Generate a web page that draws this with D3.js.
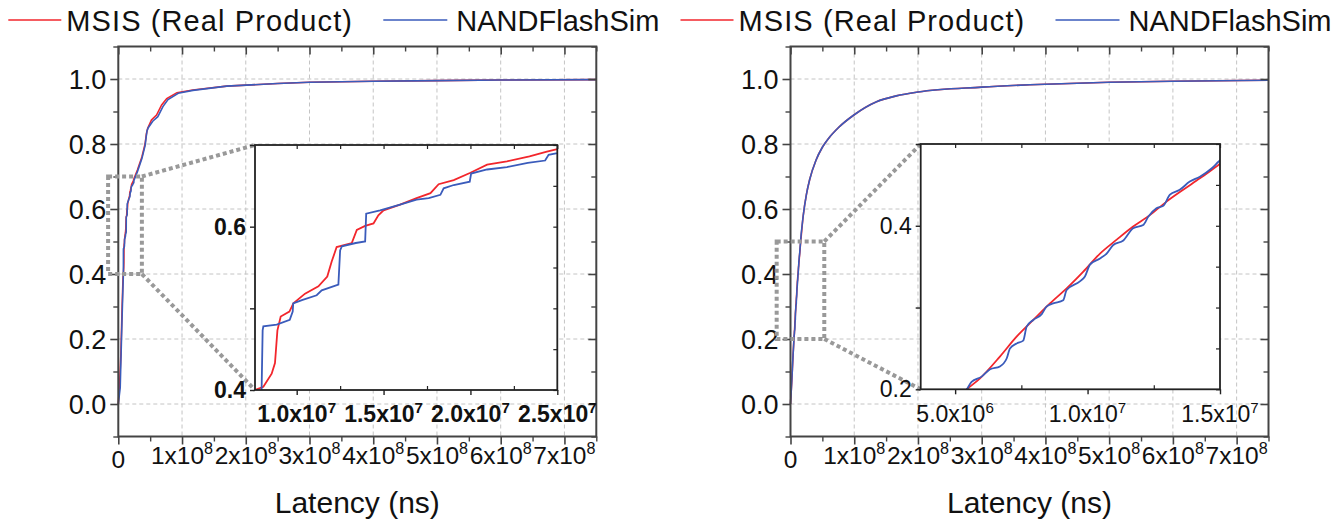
<!DOCTYPE html>
<html>
<head>
<meta charset="utf-8">
<script src="https://cdn.jsdelivr.net/npm/d3@7"></script>
<style>
body { margin: 0; background: #fff; }
text { font-family: "Liberation Sans", Arial, sans-serif; fill: #111; }
</style>
</head>
<body>
<div id="chart"></div>
<script>
var width = 1333,
    height = 525;

var seriesNames = ["MSIS (Real Product)", "NANDFlashSim"];
var seriesColors = ["#f2262c", "#3a5bbb"];

// latency (ns), cumulative fraction -- left workload
var leftMsis = [[0,0],[2e6,0.06],[4e6,0.15],[6e6,0.3],[7.6e6,0.4],[8.08e6,0.404],[8.56e6,0.42],[8.75e6,0.433],
  [8.89e6,0.473],[9.08e6,0.49],[9.58e6,0.496],[9.81e6,0.506],[10.48e6,0.518],[11.25e6,0.527],[11.76e6,0.539],
  [12.01e6,0.557],[12.3e6,0.575],[13.17e6,0.58],[13.46e6,0.596],[13.94e6,0.601],[14.42e6,0.604],[14.7e6,0.614],
  [15e6,0.62],[15.95e6,0.627],[16.9e6,0.635],[17.7e6,0.641],[18.17e6,0.652],[19.04e6,0.657],[20e6,0.666],
  [20.96e6,0.676],[22.1e6,0.68],[23.4e6,0.686],[24.4e6,0.692],[25e6,0.695],[3e7,0.72],[3.7e7,0.76],[4.2e7,0.8],
  [4.4e7,0.83],[4.6e7,0.848],[5.2e7,0.874],[6e7,0.889],[6.8e7,0.92],[7.6e7,0.94],[9.2e7,0.958],[1.17e8,0.966],
  [1.7e8,0.978],[2.5e8,0.986],[3e8,0.99],[4e8,0.993],[5e8,0.995],[6e8,0.997],[7.5e8,0.998]];
var leftSim = [[0,0],[3e6,0.05],[5e6,0.2],[7e6,0.34],[7.98e6,0.4],[8.04e6,0.473],[8.08e6,0.478],[8.85e6,0.48],
  [9.6e6,0.486],[9.77e6,0.496],[9.8e6,0.506],[10.3e6,0.51],[11.15e6,0.516],[11.44e6,0.522],[12.4e6,0.529],
  [12.5e6,0.571],[12.6e6,0.576],[13.4e6,0.58],[13.94e6,0.582],[14e6,0.616],[14.8e6,0.62],[15.95e6,0.627],
  [16.9e6,0.633],[17.6e6,0.635],[18.27e6,0.639],[18.46e6,0.647],[19.04e6,0.651],[19.96e6,0.655],[20.04e6,0.665],
  [20.96e6,0.67],[22.1e6,0.673],[23.3e6,0.678],[24.3e6,0.681],[24.5e6,0.688],[25e6,0.69],[3e7,0.715],[3.7e7,0.755],
  [4.2e7,0.795],[4.5e7,0.84],[4.7e7,0.85],[5.4e7,0.87],[6.2e7,0.884],[7e7,0.915],[7.8e7,0.937],[9.4e7,0.956],
  [1.17e8,0.965],[1.7e8,0.978],[2.5e8,0.986],[3e8,0.99],[4e8,0.993],[5e8,0.995],[6e8,0.997],[7.5e8,0.998]];

// right workload
var rightMsis = [[0,0],[2e6,0.07],[4e6,0.15],[5.44e6,0.2],[5.94e6,0.2134],[6.69e6,0.24],[7.32e6,0.2644],
  [7.95e6,0.2848],[8.58e6,0.305],[9.21e6,0.3235],[9.84e6,0.344],[10.47e6,0.366],[11.1e6,0.383],[11.72e6,0.399],
  [12.35e6,0.413],[12.98e6,0.4295],[13.61e6,0.444],[14.24e6,0.458],[14.93e6,0.474],[2e7,0.58],[2.5e7,0.645],
  [3e7,0.69],[4e7,0.75],[5e7,0.79],[6e7,0.818],[7.5e7,0.85],[1e8,0.89],[1.35e8,0.93],[1.66e8,0.948],
  [2e8,0.96],[3e8,0.975],[4e8,0.984],[5e8,0.99],[6e8,0.993],[7.5e8,0.996]];
var rightSim = [[0,0],[2e6,0.07],[4e6,0.15],[5.44e6,0.2],[5.62e6,0.209],[6e6,0.2155],[6.32e6,0.2245],
  [6.69e6,0.228],[6.95e6,0.238],[7.07e6,0.25],[7.32e6,0.256],[7.57e6,0.2595],[7.7e6,0.2766],[7.95e6,0.2848],
  [8.27e6,0.292],[8.45e6,0.301],[8.7e6,0.305],[9.08e6,0.309],[9.21e6,0.3215],[9.71e6,0.332],[9.9e6,0.338],
  [10.09e6,0.3524],[10.47e6,0.36],[10.72e6,0.366],[10.97e6,0.3765],[11.35e6,0.382],[11.72e6,0.397],[12.1e6,0.401],
  [12.29e6,0.411],[12.6e6,0.4214],[12.86e6,0.4245],[13.11e6,0.438],[13.48e6,0.444],[13.86e6,0.454],[14.24e6,0.46],
  [14.68e6,0.47],[14.93e6,0.478],[2e7,0.58],[2.5e7,0.645],[3e7,0.69],[4e7,0.75],[5e7,0.79],[6e7,0.818],
  [7.5e7,0.85],[1e8,0.89],[1.35e8,0.93],[1.66e8,0.948],[2e8,0.96],[3e8,0.975],[4e8,0.984],[5e8,0.99],
  [6e8,0.993],[7.5e8,0.996]];

var mainXTicks = [0, 1e8, 2e8, 3e8, 4e8, 5e8, 6e8, 7e8];
var mainXMinor = [0.5e8, 1.5e8, 2.5e8, 3.5e8, 4.5e8, 5.5e8, 6.5e8, 7.5e8];
var mainYTicks = [0, 0.2, 0.4, 0.6, 0.8, 1.0];
var mainYMinor = [-0.1, 0.1, 0.3, 0.5, 0.7, 0.9, 1.1];

var leftInsetXTicks = [1e7, 1.5e7, 2e7, 2.5e7];
var leftInsetXMinor = [1.25e7, 1.75e7, 2.25e7];
var leftInsetYTicks = [0.4, 0.5, 0.6, 0.7];
var leftInsetYLabels = [0.4, 0.6];

var rightInsetXTicks = [5e6, 1e7, 1.5e7];
var rightInsetXMinor = [7.5e6, 1.25e7];
var rightInsetYTicks = [0.2, 0.3, 0.4, 0.5];
var rightInsetYLabels = [0.2, 0.4];

var svg = d3.select("#chart").append("svg")
    .attr("width", width)
    .attr("height", height)

var clipId = 0;

function ticks(g, axis, stroke, w) {
  g.call(axis);
  g.select(".domain").remove();
  g.selectAll("line").attr("stroke", stroke).attr("stroke-width", w);
  g.selectAll("text").remove();
}

// "1x10" + superscript exponent
function sciLabel(sel, v, digits) {
  if (v == 0) { sel.text("0"); return; }
  var e = Math.floor(Math.log10(v) + 1e-9);
  var m = v / Math.pow(10, e);
  sel.append("tspan").text((digits ? m.toFixed(digits) : m) + "x10");
  sel.append("tspan").attr("font-size", "0.66em").attr("dy", "-0.62em").text(e);
}

function drawPanel(left, msis, sim, inset, curve) {
  var top = 46.5, bottom = 436.5, right = left + 478;
  var g = svg.append("g");

  var x = d3.scaleLinear().domain([0, 7.5e8]).range([left, right]);
  var y = d3.scaleLinear().domain([-0.1, 1.1]).range([bottom, top]);

  // grid
  g.append("g").selectAll("line").data(mainXTicks.slice(1)).join("line")
    .attr("x1", d => x(d)).attr("x2", d => x(d)).attr("y1", top).attr("y2", bottom)
    .attr("stroke", "#c4c4c4").attr("stroke-dasharray", "4,3");
  g.append("g").selectAll("line").data(mainYTicks).join("line")
    .attr("x1", left).attr("x2", right).attr("y1", d => y(d)).attr("y2", d => y(d))
    .attr("stroke", "#c4c4c4").attr("stroke-dasharray", "4,3");

  var line = d3.line().curve(curve).x(d => x(d[0])).y(d => y(d[1]));
  [msis, sim].forEach(function(s, i) {
    g.append("path").datum(s).attr("d", line)
      .attr("fill", "none").attr("stroke", seriesColors[i]).attr("stroke-width", 1.6);
  });

  // frame and ticks
  var ax = "#444";
  ticks(g.append("g").attr("transform", "translate(0," + bottom + ")"), d3.axisBottom(x).tickValues(mainXTicks).tickSize(8), ax, 1.6);
  ticks(g.append("g").attr("transform", "translate(0," + bottom + ")"), d3.axisBottom(x).tickValues(mainXMinor).tickSize(5), ax, 1.4);
  ticks(g.append("g").attr("transform", "translate(0," + top + ")"), d3.axisTop(x).tickValues(mainXTicks).tickSize(-8), ax, 1.6);
  ticks(g.append("g").attr("transform", "translate(0," + top + ")"), d3.axisTop(x).tickValues(mainXMinor).tickSize(-5), ax, 1.4);
  ticks(g.append("g").attr("transform", "translate(" + left + ",0)"), d3.axisLeft(y).tickValues(mainYTicks).tickSize(8), ax, 1.6);
  ticks(g.append("g").attr("transform", "translate(" + left + ",0)"), d3.axisLeft(y).tickValues(mainYMinor).tickSize(5), ax, 1.4);
  ticks(g.append("g").attr("transform", "translate(" + right + ",0)"), d3.axisRight(y).tickValues(mainYTicks).tickSize(-8), ax, 1.6);
  ticks(g.append("g").attr("transform", "translate(" + right + ",0)"), d3.axisRight(y).tickValues(mainYMinor).tickSize(-5), ax, 1.4);
  g.append("rect").attr("x", left).attr("y", top).attr("width", right - left).attr("height", bottom - top)
    .attr("fill", "none").attr("stroke", ax).attr("stroke-width", 2);

  // tick labels
  g.append("g").selectAll("text").data(mainYTicks).join("text")
    .attr("x", left - 12).attr("y", d => y(d) + 9.5)
    .attr("text-anchor", "end").attr("font-size", 27)
    .text(d => d.toFixed(1));
  g.append("g").selectAll("text").data(mainXTicks).join("text")
    .attr("x", d => x(d)).attr("y", d => d == 0 ? 468 : 464)
    .attr("text-anchor", "middle").attr("font-size", 24.5)
    .each(function(d) { sciLabel(d3.select(this), d, 0); });

  g.append("text").attr("x", (left + right) / 2).attr("y", 513)
    .attr("text-anchor", "middle").attr("font-size", 30).text("Latency (ns)");

  // legend
  var legX = [left - 110, left + 265];
  seriesNames.forEach(function(name, i) {
    g.append("line").attr("x1", legX[i]).attr("x2", legX[i] + (i ? 64 : 53)).attr("y1", 20).attr("y2", 20)
      .attr("stroke", seriesColors[i]).attr("stroke-width", 1.6);
    g.append("text").attr("x", legX[i] + (i ? 73 : 58)).attr("y", 31)
      .attr("font-size", 29).attr("letter-spacing", i ? 0 : 1.1).text(name);
  });

  // zoom box + connectors
  var bx0 = x(inset.box[0]), bx1 = x(inset.box[1]), by0 = y(inset.box[3]), by1 = y(inset.box[2]);
  var dot = "#999";
  g.append("rect").attr("x", bx0).attr("y", by0).attr("width", bx1 - bx0).attr("height", by1 - by0)
    .attr("fill", "none").attr("stroke", dot).attr("stroke-width", 4).attr("stroke-dasharray", "4,3");
  g.append("line").attr("x1", bx1).attr("y1", by0).attr("x2", inset.x0).attr("y2", inset.y0)
    .attr("stroke", dot).attr("stroke-width", 4).attr("stroke-dasharray", "4,3");
  g.append("line").attr("x1", bx1).attr("y1", by1).attr("x2", inset.x0).attr("y2", inset.y1)
    .attr("stroke", dot).attr("stroke-width", 4).attr("stroke-dasharray", "4,3");

  // inset
  var ix = d3.scaleLinear().domain(inset.xDomain).range([inset.x0, inset.x1]);
  var iy = d3.scaleLinear().domain(inset.yDomain).range([inset.y1, inset.y0]);
  var ig = g.append("g");
  clipId += 1;
  ig.append("clipPath").attr("id", "clip" + clipId).append("rect")
    .attr("x", inset.x0).attr("y", inset.y0).attr("width", inset.x1 - inset.x0).attr("height", inset.y1 - inset.y0);
  ig.append("rect").attr("x", inset.x0).attr("y", inset.y0)
    .attr("width", inset.x1 - inset.x0).attr("height", inset.y1 - inset.y0).attr("fill", "#fff");
  var iline = d3.line().curve(curve).x(d => ix(d[0])).y(d => iy(d[1]));
  [msis, sim].forEach(function(s, i) {
    ig.append("path").datum(s).attr("d", iline).attr("clip-path", "url(#clip" + clipId + ")")
      .attr("fill", "none").attr("stroke", seriesColors[i]).attr("stroke-width", 1.8);
  });
  var ik = "#222";
  ticks(ig.append("g").attr("transform", "translate(0," + inset.y1 + ")"), d3.axisBottom(ix).tickValues(inset.xTicks).tickSize(5), ik, 1.4);
  ticks(ig.append("g").attr("transform", "translate(0," + inset.y1 + ")"), d3.axisBottom(ix).tickValues(inset.xMinor).tickSize(-4), ik, 1.2);
  ticks(ig.append("g").attr("transform", "translate(0," + inset.y0 + ")"), d3.axisTop(ix).tickValues(inset.xTicks.concat(inset.xMinor)).tickSize(-4), ik, 1.2);
  ticks(ig.append("g").attr("transform", "translate(" + inset.x0 + ",0)"), d3.axisLeft(iy).tickValues(inset.yTicks).tickSize(5), ik, 1.4);
  ticks(ig.append("g").attr("transform", "translate(" + inset.x1 + ",0)"), d3.axisRight(iy).tickValues(d3.range(inset.yDomain[0], inset.yDomain[1] + 0.01, 0.05)).tickSize(-4), ik, 1.2);
  ig.append("rect").attr("x", inset.x0).attr("y", inset.y0)
    .attr("width", inset.x1 - inset.x0).attr("height", inset.y1 - inset.y0)
    .attr("fill", "none").attr("stroke", ik).attr("stroke-width", 1.8);

  ig.append("g").selectAll("text").data(inset.yLabels).join("text")
    .attr("x", inset.x0 - 9).attr("y", d => iy(d) + 8)
    .attr("text-anchor", "end").attr("font-size", 23).attr("font-weight", inset.weight)
    .text(d => d.toFixed(1));
  ig.append("g").selectAll("text").data(inset.xTicks).join("text")
    .attr("x", d => ix(d)).attr("y", 422)
    .attr("text-anchor", "middle").attr("font-size", 23).attr("font-weight", inset.weight)
    .each(function(d) { sciLabel(d3.select(this), d, 1); });
}

drawPanel(118.3, leftMsis, leftSim, {
  x0: 255, x1: 557.3, y0: 145, y1: 390,
  xDomain: [7.6e6, 2.5e7], yDomain: [0.4, 0.7],
  box: [-1.6e7, 3.7e7, 0.4, 0.7],
  xTicks: leftInsetXTicks, xMinor: leftInsetXMinor,
  yTicks: leftInsetYTicks, yLabels: leftInsetYLabels, weight: "bold"
}, d3.curveLinear);

drawPanel(790.5, rightMsis, rightSim, {
  x0: 920.7, x1: 1220, y0: 144, y1: 389.3,
  xDomain: [3.7e6, 1.5e7], yDomain: [0.2, 0.5],
  box: [-2.17e7, 5.3e7, 0.2, 0.5],
  xTicks: rightInsetXTicks, xMinor: rightInsetXMinor,
  yTicks: rightInsetYTicks, yLabels: rightInsetYLabels, weight: "normal"
}, d3.curveMonotoneX);
</script>
</body>
</html>
